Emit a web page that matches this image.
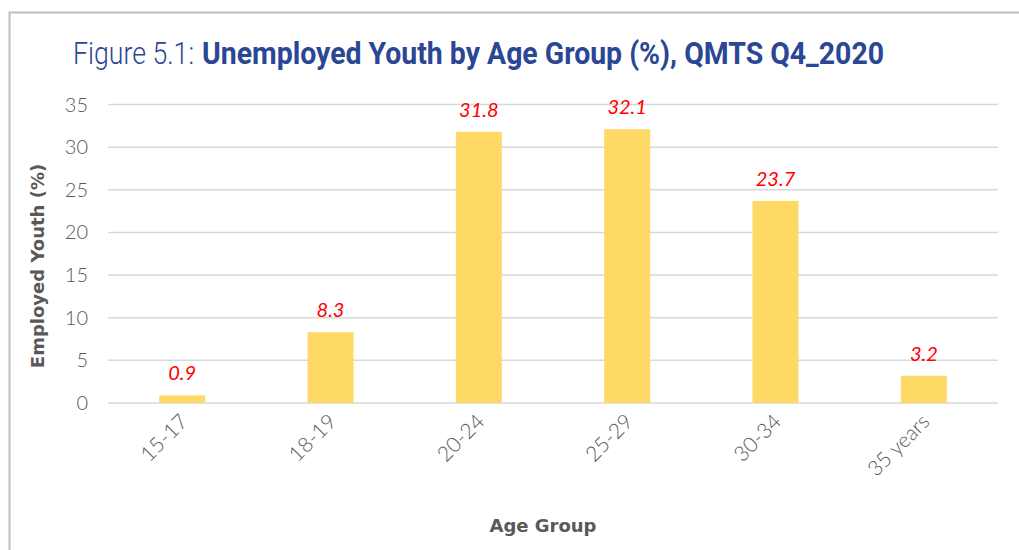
<!DOCTYPE html>
<html lang="en">
  <head>
    <meta charset="UTF-8" />
    <title>Unemployed Youth by Age Group</title>
    <script src="https://d3js.org/d3.v7.min.js"></script>
    <style>
      body {
        margin: 0;
        background: #ffffff;
      }
      svg {
        display: block;
      }
      .tick-label {
        font-family: Lato, "Noto Sans", sans-serif;
        font-weight: 300;
        font-size: 20px;
        fill: #595959;
      }
      .x-label {
        font-size: 21px;
      }
      .axis-title {
        font-family: "DejaVu Sans", sans-serif;
        font-weight: bold;
        font-size: 18px;
        fill: #595959;
      }
      .value-label {
        font-family: Lato, "Noto Sans", sans-serif;
        font-style: italic;
        font-size: 20px;
        fill: #ff0000;
      }
    </style>
  </head>
  <body>
    <div id="chart"></div>

    <script>
      // Chart data
      const ageGroups = ["15-17", "18-19", "20-24", "25-29", "30-34", "35 years"];
      const unemployedShare = [0.9, 8.3, 31.8, 32.1, 23.7, 3.2];
      const yTicks = [0, 5, 10, 15, 20, 25, 30, 35];

      const width = 1019,
        height = 550;
      const margin = { top: 104.5, right: 21, bottom: 147, left: 108 };

      const svg = d3
        .select("#chart")
        .append("svg")
        .attr("width", width)
        .attr("height", height);

      // Outer frame (runs off the right and bottom edges)
      svg
        .append("path")
        .attr("d", "M9.5," + (height + 5) + " L9.5,12.5 L" + (width + 5) + ",12.5")
        .attr("fill", "none")
        .attr("stroke", "#bfbfbf")
        .attr("stroke-width", 2);

      // Title
      const title = svg.append("g").attr("fill", "#2a4694");
      title
        .append("text")
        .attr("x", 73)
        .attr("y", 64)
        .attr("font-family", "Roboto, sans-serif")
        .attr("font-weight", 300)
        .attr("font-size", 31)
        .attr("textLength", 121)
        .attr("lengthAdjust", "spacingAndGlyphs")
        .text("Figure 5.1:");
      title
        .append("text")
        .attr("x", 202)
        .attr("y", 64)
        .attr("font-family", "Roboto, sans-serif")
        .attr("font-weight", "bold")
        .attr("font-size", 31)
        .attr("textLength", 682)
        .attr("lengthAdjust", "spacingAndGlyphs")
        .text("Unemployed Youth by Age Group (%), QMTS Q4_2020");

      const x = d3
        .scaleBand()
        .domain(ageGroups)
        .range([margin.left, width - margin.right]);

      const y = d3
        .scaleLinear()
        .domain([0, 35])
        .range([height - margin.bottom, margin.top]);

      const barWidth = x.bandwidth() * 0.31;

      // Gridlines
      svg
        .append("g")
        .selectAll("line")
        .data(yTicks)
        .join("line")
        .attr("x1", margin.left)
        .attr("x2", width - margin.right)
        .attr("y1", (d) => y(d))
        .attr("y2", (d) => y(d))
        .attr("stroke", "#d9d9d9")
        .attr("stroke-width", 1.5);

      // Y tick labels
      svg
        .append("g")
        .selectAll("text")
        .data(yTicks)
        .join("text")
        .attr("class", "tick-label")
        .attr("x", 88)
        .attr("y", (d) => y(d))
        .attr("dy", "0.35em")
        .attr("text-anchor", "end")
        .text((d) => d);

      // Bars
      const data = ageGroups.map((g, i) => ({ group: g, value: unemployedShare[i] }));

      svg
        .append("g")
        .selectAll("rect")
        .data(data)
        .join("rect")
        .attr("x", (d) => x(d.group) + x.bandwidth() / 2 - barWidth / 2)
        .attr("width", barWidth)
        .attr("y", (d) => y(d.value))
        .attr("height", (d) => y(0) - y(d.value))
        .attr("fill", "#ffd966");

      // Value labels
      svg
        .append("g")
        .selectAll("text")
        .data(data)
        .join("text")
        .attr("class", "value-label")
        .attr("x", (d) => x(d.group) + x.bandwidth() / 2)
        .attr("y", (d) => y(d.value) - 15)
        .attr("text-anchor", "middle")
        .text((d) => d.value);

      // X tick labels, rotated
      svg
        .append("g")
        .selectAll("text")
        .data(ageGroups)
        .join("text")
        .attr("class", "tick-label x-label")
        .attr("text-anchor", "end")
        .attr("transform", (d) => "translate(" + (x(d) + x.bandwidth() / 2 + 7) + "," + (y(0) + 20) + ") rotate(-45)")
        .text((d) => d);

      // Axis titles
      svg
        .append("text")
        .attr("class", "axis-title")
        .attr("transform", "translate(44,266) rotate(-90)")
        .attr("text-anchor", "middle")
        .text("Employed Youth (%)");

      svg
        .append("text")
        .attr("class", "axis-title")
        .attr("x", 543)
        .attr("y", 532)
        .attr("text-anchor", "middle")
        .text("Age Group");
    </script>
  </body>
</html>
